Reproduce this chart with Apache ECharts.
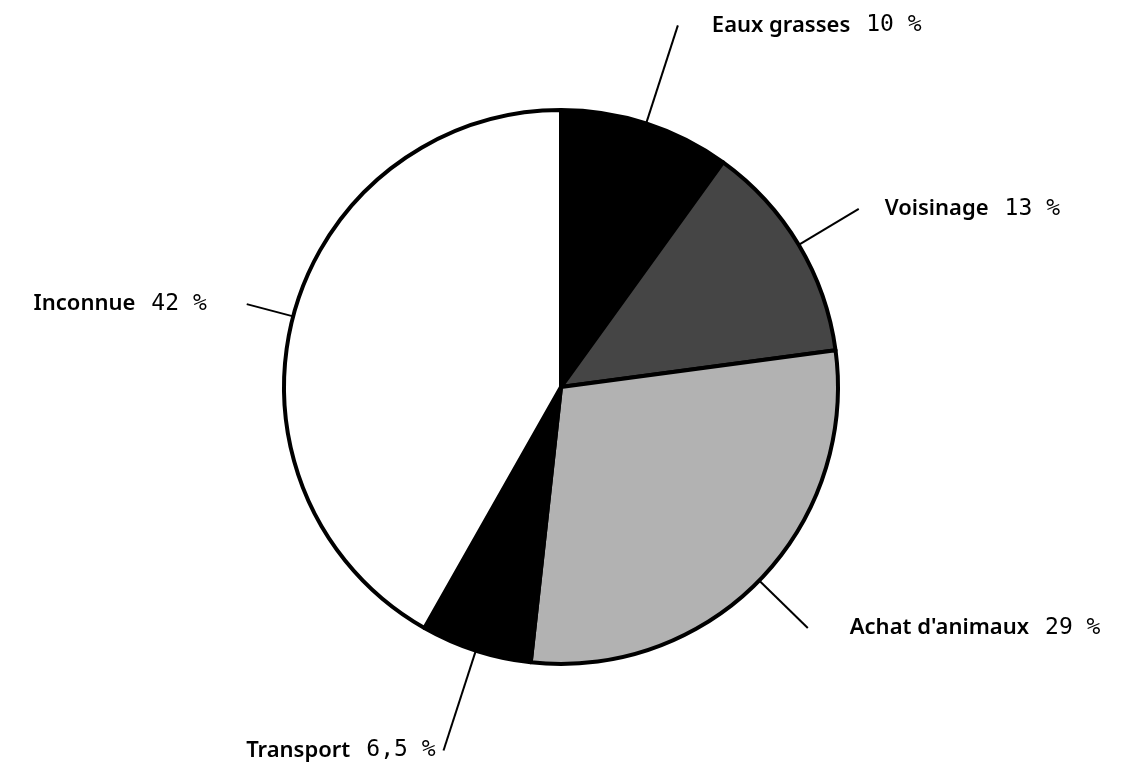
<!DOCTYPE html>
<html>
<head>
<meta charset="utf-8">
<script src="https://cdn.jsdelivr.net/npm/echarts@6/dist/echarts.min.js"></script>
<style>
    html, body { margin: 0; padding: 0; background: #fff; }
    #myCharts { width: 1141px; height: 767px; }
</style>
</head>
<body>
<div id="myCharts"></div>
<script>
    // data (clockwise from 12 o'clock)
    const categories = ['Eaux grasses', 'Voisinage', "Achat d'animaux", 'Transport', 'Inconnue'];
    const values = [10, 13, 29, 6.5, 42];
    const valueLabels = ['10 %', '13 %', '29 %', '6,5 %', '42 %'];

    // styling per slice (fill, leader length, gap text/leader)
    const fills = ['#000000', '#454545', '#b2b2b2', '#000000', '#ffffff'];
    const lineLengths = [103, 70, 68, 105, 48];
    const labelGaps = [34, 26, 42, 8, 40];

    const myCharts = echarts.init(document.getElementById('myCharts'));

    let data = categories.map(function (name, i) {
        return {
            name: name,
            value: values[i],
            itemStyle: { color: fills[i] },
            labelLine: { length: lineLengths[i], length2: 0 },
            label: { distanceToLabelLine: labelGaps[i] }
        };
    });

    let options = {
        backgroundColor: '#fff',
        animation: false,
        series: [
            {
                type: 'pie',
                center: [561, 387],
                radius: 277,
                startAngle: 90,
                clockwise: true,
                avoidLabelOverlap: false,
                emphasis: { disabled: true },
                itemStyle: {
                    borderColor: '#000',
                    borderWidth: 4
                },
                label: {
                    show: true,
                    position: 'outside',
                    formatter: function (p) {
                        return '{n|' + p.name + '}{v|' + valueLabels[p.dataIndex] + '}';
                    },
                    rich: {
                        n: {
                            fontFamily: 'Noto Sans',
                            fontSize: 22,
                            fontWeight: 600,
                            color: '#000'
                        },
                        v: {
                            fontFamily: 'DejaVu Sans Mono',
                            fontSize: 23,
                            color: '#000',
                            padding: [0, 0, 0, 16]
                        }
                    }
                },
                labelLine: {
                    show: true,
                    smooth: false,
                    lineStyle: { color: '#000', width: 2 }
                },
                data: data
            }
        ]
    };
    myCharts.setOption(options);
</script>
</body>
</html>
